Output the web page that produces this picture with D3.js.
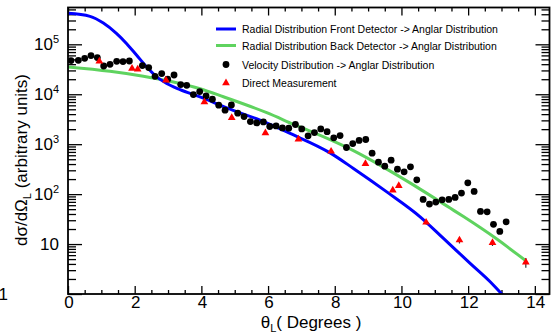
<!doctype html>
<html>
<head>
<meta charset="utf-8">
<title>Angular distribution</title>
<style>
    body { margin: 0; background: #fff; }
    svg { display: block; font-family: "Liberation Sans", Arial, Helvetica, sans-serif; }
</style>
</head>
<body>
<script src="https://d3js.org/d3.v7.min.js"></script>
<script>
    // size of the picture
    var w = 551;
    var h = 334;
    var fLeft = 68, fRight = 549.5, fTop = 7.5, fBottom = 294;

    // blue curve: radial distribution, front detector
    var frontX = [0, 0.66, 1.06, 1.46, 1.76, 2.06, 2.36, 2.66, 2.96, 3.36, 3.96, 4.76, 5.76, 6.66, 7.86, 8.56, 9.56, 10.56, 11.26, 12.06, 12.66, 13.01, 13.3];
    var frontY = [417000, 363000, 267000, 164000, 103000, 60300, 35200, 22200, 16400, 12400, 8830, 5320, 3020, 1640, 670, 327, 111, 35.2, 13.0, 4.11, 1.76, 1.0, 0.66];

    // green curve: radial distribution, back detector
    var backX = [0, 1.26, 2.26, 3.06, 3.96, 4.66, 5.96, 6.76, 7.86, 8.56, 9.56, 10.56, 11.46, 11.86, 12.86, 13.73];
    var backY = [35200, 28800, 22900, 18200, 12900, 8910, 4270, 2510, 1230, 741, 316, 126, 52.5, 35.5, 12.6, 4.63];

    // black dots: velocity distribution
    var velX = [0.09, 0.31, 0.50, 0.69, 0.88, 1.07, 1.26, 1.46, 1.65, 1.84, 2.23, 2.42, 2.61, 2.81, 2.99, 3.18, 3.38, 3.56, 3.76, 3.95,
                4.14, 4.33, 4.52, 4.71, 4.90, 5.09, 5.28, 5.47, 5.66, 5.86, 6.05, 6.24, 6.43, 6.62, 6.82, 7.01, 7.20, 7.39, 7.58, 7.77,
                7.97, 8.16, 8.35, 8.54, 8.73, 8.93, 9.12, 9.31, 9.50, 9.69, 9.88, 10.08, 10.27, 10.46, 10.65, 10.84, 11.03, 11.22, 11.42, 11.61,
                11.80, 11.99, 12.18, 12.37, 12.57, 12.76, 12.95, 13.14];
    var velY = [47200, 47900, 52500, 59400, 54200, 36800, 39800, 45700, 45100, 46300, 37500, 34200, 22900, 25900, 20000, 24300, 15600, 15100, 9860, 11300,
                9250, 7940, 6030, 4790, 6110, 4170, 3580, 2840, 2670, 2790, 2260, 2320, 2120, 2090, 2480, 2020, 1470, 1710, 2020, 1780,
                1340, 1490, 859, 1030, 1190, 1240, 661, 437, 363, 479, 316, 279, 352, 193, 78.3, 63.1, 69.2, 76.9, 78.3, 85.9,
                105, 168, 113, 45.1, 44.3, 24.8, 17.9, 27.9];

    // red triangles: direct measurement
    var dirX = [0.94, 1.92, 2.09, 2.94, 4.09, 4.91, 5.92, 6.91, 7.89, 8.92, 9.74, 9.92, 10.74, 11.74, 12.73, 13.73];
    var dirY = [45700, 32700, 31600, 19100, 7010, 3390, 1680, 1260, 718, 404, 120, 147, 27.2, 12.0, 10.6, 4.31];
    var dirErr = [1500, 1000, 1000, 600, 250, 120, 60, 45, 25, 15, 5, 6, 2.5, 1.7, 1.5, 0.95];

    var xTicks = [0, 2, 4, 6, 8, 10, 12, 14];
    var yDecades = [0, 1, 2, 3, 4, 5];

    var legendText = [
        "Radial Distribution Front Detector -> Anglar Distribution",
        "Radial Distribution Back Detector -> Anglar Distribution",
        "Velocity Distribution -> Anglar Distribution",
        "Direct Measurement"
    ];

    var blue = "#0000ff", green = "#5fd35f", red = "#ff0000";

    var x = d3.scaleLinear().domain([0, 14.44]).range([fLeft, fRight]);
    var y = d3.scaleLog().domain([1, 5.46e5]).range([fBottom, fTop]);

    var svg = d3.select("body").append("svg")
        .attr("width", w)
        .attr("height", h);

    svg.append("defs").append("clipPath").attr("id", "frame")
        .append("rect")
        .attr("x", fLeft).attr("y", fTop)
        .attr("width", fRight - fLeft).attr("height", fBottom - fTop);

    // minor tick values
    var xMinor = d3.range(0, 14.44, 0.5).filter(function (v) { return v % 2 !== 0; });
    var yMinor = [];
    yDecades.forEach(function (d) {
        for (var k = 2; k <= 9; k++) {
            var v = k * Math.pow(10, d);
            if (v < 5.46e5) yMinor.push(v);
        }
    });

    function tickLayer(axis, tx, ty) {
        var g = svg.append("g").attr("transform", "translate(" + tx + "," + ty + ")").call(axis);
        g.select(".domain").remove();
        g.selectAll("line").attr("stroke", "#000").attr("stroke-width", 1.3);
        return g;
    }

    // ticks on all four sides, pointing inwards
    tickLayer(d3.axisBottom(x).tickValues(xTicks).tickSize(-8).tickFormat(""), 0, fBottom);
    tickLayer(d3.axisBottom(x).tickValues(xMinor).tickSize(-4).tickFormat(""), 0, fBottom);
    tickLayer(d3.axisTop(x).tickValues(xTicks).tickSize(-8).tickFormat(""), 0, fTop);
    tickLayer(d3.axisTop(x).tickValues(xMinor).tickSize(-4).tickFormat(""), 0, fTop);
    var yMajor = yDecades.map(function (d) { return Math.pow(10, d); });
    tickLayer(d3.axisLeft(y).tickValues(yMajor).tickSize(-14).tickFormat(""), fLeft, 0);
    tickLayer(d3.axisLeft(y).tickValues(yMinor).tickSize(-8).tickFormat(""), fLeft, 0);
    tickLayer(d3.axisRight(y).tickValues(yMajor).tickSize(-14).tickFormat(""), fRight, 0);
    tickLayer(d3.axisRight(y).tickValues(yMinor).tickSize(-8).tickFormat(""), fRight, 0);

    // x tick labels
    svg.append("g").selectAll("text")
        .data(xTicks)
        .enter()
        .append("text")
        .attr("x", function (d) { return x(d) + 1; })
        .attr("y", fBottom + 14)
        .attr("text-anchor", "middle")
        .attr("font-size", 17)
        .text(function (d) { return d; });

    // y tick labels
    var yLab = svg.append("g").selectAll("text")
        .data(yDecades)
        .enter()
        .append("text")
        .attr("x", function (d) { return d === 0 ? 8 : 59; })
        .attr("y", function (d) { return y(Math.pow(10, d)) + 6; })
        .attr("text-anchor", "end")
        .attr("font-size", 17);
    yLab.append("tspan").text(function (d) { return d === 0 ? "1" : "10"; });
    yLab.filter(function (d) { return d >= 2; })
        .append("tspan")
        .attr("dy", -7)
        .attr("font-size", 11)
        .text(function (d) { return d; });

    // axis titles
    var xt = svg.append("text")
        .attr("x", 311)
        .attr("y", 328)
        .attr("text-anchor", "middle")
        .attr("font-size", 17);
    xt.append("tspan").text("\u03b8");
    xt.append("tspan").attr("dy", 4).attr("font-size", 11).text("L");
    xt.append("tspan").attr("dy", -4).text("( Degrees )");

    var yt = svg.append("text")
        .attr("transform", "translate(27,160) rotate(-90)")
        .attr("text-anchor", "middle")
        .attr("font-size", 17);
    yt.append("tspan").text("d\u03c3/d\u03a9");
    yt.append("tspan").attr("dy", 4).attr("font-size", 11).text("L");
    yt.append("tspan").attr("dy", -4).text(" (arbitrary units)");

    // curves
    var plot = svg.append("g").attr("clip-path", "url(#frame)");
    var line = d3.line()
        .x(function (d) { return x(d[0]); })
        .y(function (d) { return y(d[1]); })
        .curve(d3.curveMonotoneX);

    plot.append("path")
        .datum(d3.zip(backX, backY))
        .attr("d", line)
        .attr("fill", "none")
        .attr("stroke", green)
        .attr("stroke-width", 3);

    plot.append("path")
        .datum(d3.zip(frontX, frontY))
        .attr("d", line)
        .attr("fill", "none")
        .attr("stroke", blue)
        .attr("stroke-width", 3);

    // velocity points
    plot.append("g").selectAll("circle")
        .data(d3.zip(velX, velY))
        .enter()
        .append("circle")
        .attr("cx", function (d) { return x(d[0]); })
        .attr("cy", function (d) { return y(d[1]); })
        .attr("r", 3.4)
        .attr("fill", "#000");

    // direct measurement, with error bars
    var dir = d3.zip(dirX, dirY, dirErr);
    plot.append("g").selectAll("line")
        .data(dir)
        .enter()
        .append("line")
        .attr("x1", function (d) { return x(d[0]); })
        .attr("x2", function (d) { return x(d[0]); })
        .attr("y1", function (d) { return y(d[1] + d[2]); })
        .attr("y2", function (d) { return y(Math.max(d[1] - d[2], 0.5)); })
        .attr("stroke", "#333")
        .attr("stroke-width", 1.2);

    var tri = d3.symbol().type(d3.symbolTriangle).size(26);
    plot.append("g").selectAll("path")
        .data(dir)
        .enter()
        .append("path")
        .attr("transform", function (d) { return "translate(" + x(d[0]) + "," + y(d[1]) + ")"; })
        .attr("d", tri)
        .attr("fill", red);

    // frame
    svg.append("rect")
        .attr("x", fLeft).attr("y", fTop)
        .attr("width", fRight - fLeft).attr("height", fBottom - fTop)
        .attr("fill", "none")
        .attr("stroke", "#000")
        .attr("stroke-width", 1.8);

    // legend
    var legY = [29, 45.5, 64.5, 83];
    var leg = svg.append("g");
    leg.append("line").attr("x1", 216).attr("x2", 236).attr("y1", legY[0]).attr("y2", legY[0])
        .attr("stroke", blue).attr("stroke-width", 3);
    leg.append("line").attr("x1", 216).attr("x2", 236).attr("y1", legY[1]).attr("y2", legY[1])
        .attr("stroke", green).attr("stroke-width", 3);
    leg.append("circle").attr("cx", 226).attr("cy", legY[2]).attr("r", 3.4).attr("fill", "#000");
    leg.append("path").attr("transform", "translate(226," + legY[3] + ")").attr("d", tri).attr("fill", red);
    leg.selectAll("text")
        .data(legendText)
        .enter()
        .append("text")
        .attr("x", 242)
        .attr("y", function (d, i) { return legY[i] + 4; })
        .attr("font-size", 10.5)
        .text(function (d) { return d; });
</script>
</body>
</html>
